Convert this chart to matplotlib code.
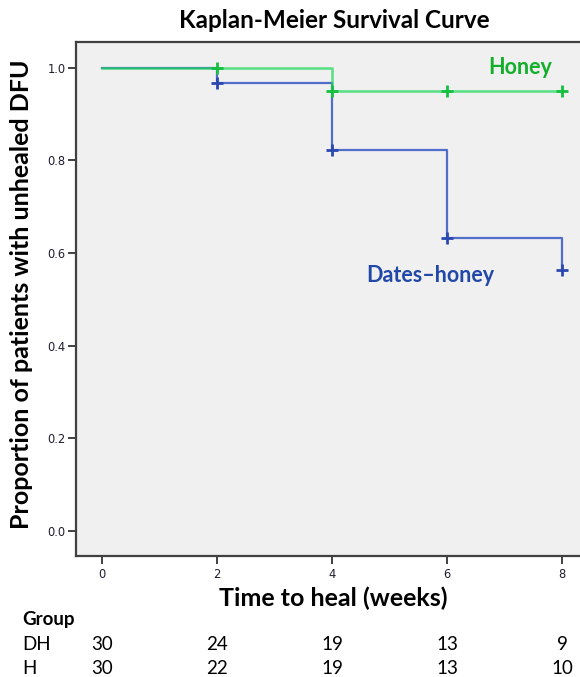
import matplotlib
matplotlib.use("Agg")
import matplotlib.pyplot as plt

# ---- data ----
times = [0, 2, 4, 6, 8]
dh_surv = [1.0, 0.967, 0.822, 0.633, 0.563]
h_surv = [1.0, 1.0, 0.95, 0.95, 0.95]
censor_times = [2, 4, 6, 8]
dh_censor = [0.967, 0.822, 0.633, 0.563]
h_censor = [1.0, 0.95, 0.95, 0.95]
groups = ["DH", "H"]
at_risk_dh = [30, 24, 19, 13, 9]
at_risk_h = [30, 22, 19, 13, 10]
yticks = [0.0, 0.2, 0.4, 0.6, 0.8, 1.0]

W, H = 580, 677
fig = plt.figure(figsize=(W / 100, H / 100), dpi=100)
fig.patch.set_facecolor("white")

def fx(px):
    return px / W

def fy(py):
    return 1 - py / H

left, right, top, bottom = 76, 588, 42, 556
XMIN, XMAX = -0.447, 8.45
ax = fig.add_axes([fx(left), fy(bottom), (right - left) / W, (bottom - top) / H])
ax.set_facecolor("#f0f0f0")

blue = "#3558c4"
green = "#1ed85a"

ax.step(times, dh_surv, where="post", color=blue, lw=1.6, alpha=0.85, zorder=2)
ax.step(times, h_surv, where="post", color=green, lw=1.9, alpha=0.7, zorder=3)
ax.plot(censor_times, dh_censor, ls="none", marker="+", ms=9, mew=2, color="#2a48b0", zorder=4)
ax.plot(censor_times, h_censor, ls="none", marker="+", ms=9, mew=2, color="#15c040", zorder=5)

ax.set_xlim(XMIN, XMAX)
ax.set_ylim(-0.0546, 1.0556)
ax.set_xticks(times)
ax.set_xticklabels([str(t) for t in times])
ax.set_yticks(yticks)
ax.set_yticklabels([f"{v:.1f}" for v in yticks])
ax.tick_params(axis="both", labelsize=8.3, color="#333333", width=1.3, length=6,
               direction="out", labelcolor="#1e1e30")
ax.tick_params(axis="x", pad=3)
ax.tick_params(axis="y", pad=1.5)
for lab in ax.get_xticklabels() + ax.get_yticklabels():
    lab.set_family("DejaVu Sans")
for s in ax.spines.values():
    s.set_color("#404040")
    s.set_linewidth(1.6)

font = ["Lato", "DejaVu Sans"]

fig.text(fx(334), fy(21), "Kaplan-Meier Survival Curve", ha="center", va="center",
         fontsize=17.5, fontweight="bold", family=font)
fig.text(fx(333), fy(598), "Time to heal (weeks)", ha="center", va="center",
         fontsize=18, fontweight="bold", family=font)
fig.text(fx(22), fy(294), "Proportion of patients with unhealed DFU", ha="center", va="center",
         rotation=90, fontsize=18, fontweight="bold", family=font)

ax.text(7.28, 1.0, "Honey", color="#12b02a", fontsize=15.5, fontweight="bold",
        family=font, ha="center", va="center")
ax.text(5.71, 0.552, "Dates\u2013honey", color="#2148a8", fontsize=15.5, fontweight="bold",
        family=font, ha="center", va="center")

# risk table
fig.text(fx(22), fy(619), "Group", fontsize=13.5, fontweight="bold", family=font, va="center")
rows = [(groups[0], at_risk_dh, 645), (groups[1], at_risk_h, 668)]
for name, vals, ypx in rows:
    fig.text(fx(22), fy(ypx), name, fontsize=13.5, family=font, va="center")
    for t, v in zip(times, vals):
        xpx = left + (t - XMIN) / (XMAX - XMIN) * (right - left)
        fig.text(fx(xpx), fy(ypx), str(v), fontsize=13.5, family=font, ha="center", va="center")

fig.savefig("out.png", dpi=100)
